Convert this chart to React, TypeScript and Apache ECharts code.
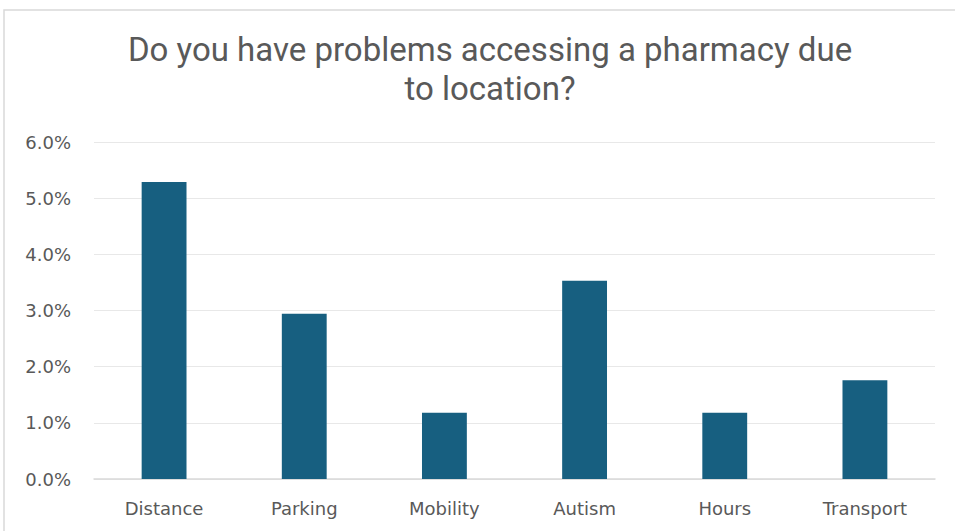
import React, { useEffect, useRef } from "react";
import * as echarts from "echarts";

const categories = ["Distance", "Parking", "Mobility", "Autism", "Hours", "Transport"];
const values = [0.0529, 0.0294, 0.0118, 0.0353, 0.0118, 0.0176];
const titleText = "Do you have problems accessing a pharmacy due\nto location?";

export default function App() {
  const ref = useRef<HTMLDivElement>(null);
  useEffect(() => {
    if (!ref.current) return;
    const chart = echarts.init(ref.current, null, { renderer: "svg" });
    chart.setOption({
      animation: false,
      backgroundColor: "#ffffff",
      title: {
        text: titleText,
        left: 485,
        textAlign: "center",
        top: 25,
        textStyle: {
          fontFamily: "Roboto, sans-serif",
          fontSize: 33,
          fontWeight: "normal",
          color: "#595959",
          lineHeight: 39,
        },
      },
      graphic: [
        {
          type: "rect",
          shape: { x: 4, y: 10, width: 960, height: 540 },
          style: { fill: "none", stroke: "#d9d9d9", lineWidth: 1.5 },
          silent: true,
        },
      ],
      grid: { left: 94, right: 20, top: 142, bottom: 52, containLabel: false },
      xAxis: {
        type: "category",
        data: categories,
        axisTick: { show: false },
        axisLine: { lineStyle: { color: "#d9d9d9", width: 1.5 } },
        axisLabel: {
          color: "#595959",
          fontSize: 18,
          margin: 20,
          fontFamily: "DejaVu Sans, sans-serif",
        },
      },
      yAxis: {
        type: "value",
        min: 0,
        max: 0.06,
        interval: 0.01,
        axisLine: { show: false },
        axisTick: { show: false },
        splitLine: { lineStyle: { color: "#e8e8e8", width: 1 } },
        axisLabel: {
          color: "#595959",
          fontSize: 18,
          margin: 23,
          fontFamily: "DejaVu Sans, sans-serif",
          formatter: (v: number) => (v * 100).toFixed(1) + "%",
        },
      },
      series: [
        {
          type: "bar",
          data: values,
          barWidth: "32%",
          itemStyle: { color: "#175f80" },
        },
      ],
    });
    return () => chart.dispose();
  }, []);
  return (
    <div
      ref={ref}
      style={{ position: "fixed", left: 0, top: 0, width: 955, height: 531 }}
    />
  );
}
